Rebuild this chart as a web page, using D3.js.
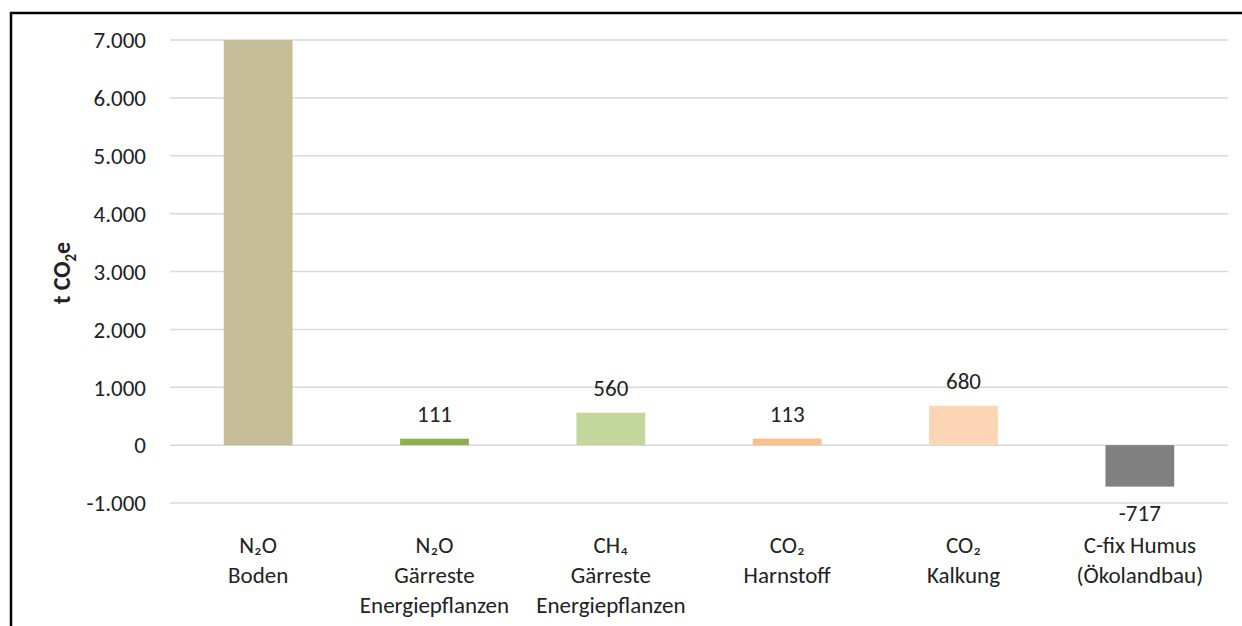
<!DOCTYPE html>
<html>
<head>
<meta charset="utf-8">
<script src="https://cdn.jsdelivr.net/npm/d3@7"></script>
<style>
  body { margin: 0; background: #fff; }
  svg text { font-family: Carlito, Lato, "Open Sans", sans-serif; fill: #222; }
</style>
</head>
<body>
<svg width="1242" height="626"></svg>
<script>
// categories (each label split into lines)
const categories = [
  ["N₂O", "Boden"],
  ["N₂O", "Gärreste", "Energiepflanzen"],
  ["CH₄", "Gärreste", "Energiepflanzen"],
  ["CO₂", "Harnstoff"],
  ["CO₂", "Kalkung"],
  ["C-fix Humus", "(Ökolandbau)"]
];
const values = [7000, 111, 560, 113, 680, -717];
const showLabel = [false, true, true, true, true, true];
const colors = ["#C4BD97", "#8FAF4F", "#C3D69B", "#FAC090", "#FCD5B5", "#808080"];
const yTicks = [-1000, 0, 1000, 2000, 3000, 4000, 5000, 6000, 7000];

const svg = d3.select("svg");
const fmt = d3.formatLocale({ decimal: ",", thousands: ".", grouping: [3], currency: ["", "€"], minus: "-" }).format(",d");

// outer frame
svg.append("rect")
  .attr("x", 11).attr("y", 13)
  .attr("width", 1260).attr("height", 640)
  .attr("fill", "none")
  .attr("stroke", "#000")
  .attr("stroke-width", 2.5);

const left = 170, right = 1228;
const y = d3.scaleLinear().domain([-1000, 7000]).range([503, 40]);
const x = d3.scaleBand().domain(d3.range(categories.length)).range([left, right]).paddingInner(0.61).paddingOuter(0.305);

const rows = values.map((v, i) => ({ v, i }));

// gridlines
svg.append("g")
  .selectAll("line")
  .data(yTicks)
  .join("line")
  .attr("x1", left).attr("x2", right)
  .attr("y1", d => y(d)).attr("y2", d => y(d))
  .attr("stroke", "#d9d9d9")
  .attr("stroke-width", 1.5);

// y tick labels
svg.append("g")
  .selectAll("text")
  .data(yTicks)
  .join("text")
  .attr("x", 146)
  .attr("y", d => y(d))
  .attr("dy", "0.36em")
  .attr("text-anchor", "end")
  .style("font-size", "23px")
  .text(d => fmt(d));

// axis title
const title = svg.append("text")
  .attr("transform", "translate(70,273) rotate(-90)")
  .attr("text-anchor", "middle")
  .style("font-size", "24px")
  .style("font-weight", "bold");
title.append("tspan").text("t CO");
title.append("tspan").attr("dy", 6).style("font-size", "15px").text("2");
title.append("tspan").attr("dy", -6).text("e");

// bars
svg.append("g")
  .selectAll("rect")
  .data(rows)
  .join("rect")
  .attr("x", d => x(d.i))
  .attr("width", x.bandwidth())
  .attr("y", d => y(Math.max(0, d.v)))
  .attr("height", d => Math.abs(y(d.v) - y(0)))
  .attr("fill", d => colors[d.i]);

// value labels
svg.append("g")
  .selectAll("text")
  .data(rows.filter(d => showLabel[d.i]))
  .join("text")
  .attr("x", d => x(d.i) + x.bandwidth() / 2)
  .attr("y", d => d.v >= 0 ? y(d.v) - 17 : y(d.v) + 34)
  .attr("text-anchor", "middle")
  .style("font-size", "23px")
  .text(d => fmt(d.v));

// category labels
const cat = svg.append("g")
  .selectAll("text")
  .data(categories)
  .join("text")
  .attr("text-anchor", "middle")
  .style("font-size", "23px");
cat.selectAll("tspan")
  .data((d, i) => d.map(t => ({ t, i })))
  .join("tspan")
  .attr("x", d => x(d.i) + x.bandwidth() / 2)
  .attr("y", (d, j) => 553 + j * 30)
  .text(d => d.t);
</script>
</body>
</html>
